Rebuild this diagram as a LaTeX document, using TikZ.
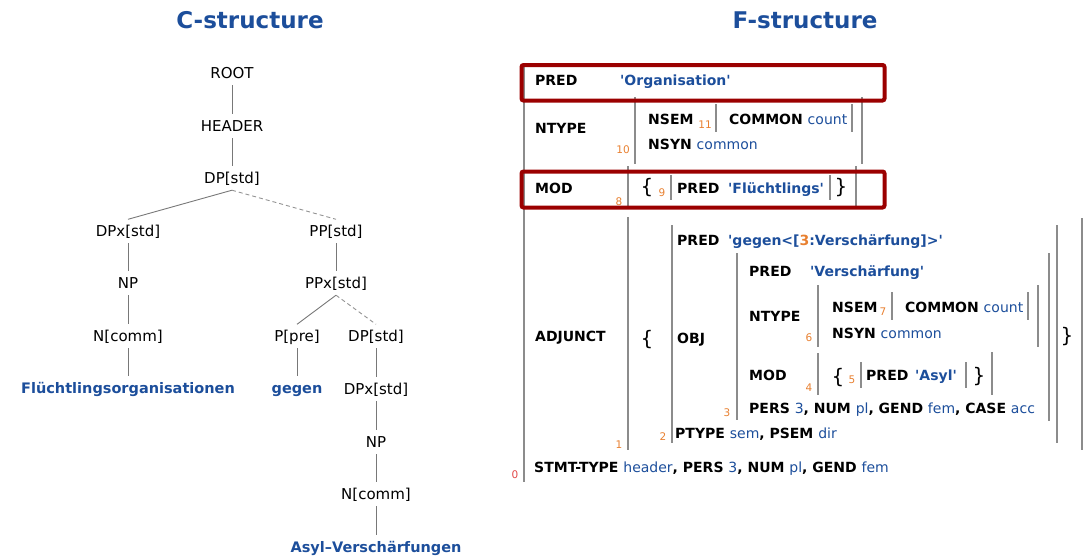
\documentclass[tikz,border=0pt]{standalone}
\usepackage{fontspec}
\setmainfont{DejaVu Sans}
\definecolor{fblue}{RGB}{28,78,155}
\definecolor{forange}{RGB}{232,128,48}
\definecolor{fred}{RGB}{225,70,70}
\definecolor{boxred}{RGB}{155,0,0}
\definecolor{bgray}{RGB}{140,140,140}
\definecolor{tgray}{RGB}{120,120,120}
\newcommand\sq{\textquotesingle}
\newcommand\fval[1]{{\mdseries\color{fblue}#1}}
\newcommand\fquo[1]{{\color{fblue}#1}}
\begin{document}
\begin{tikzpicture}[x=1pt,y=-1pt,
  title/.style={font=\fontsize{23}{26}\selectfont\bfseries, text=fblue, inner sep=0pt, anchor=base},
  tn/.style={font=\fontsize{15}{17}\selectfont, text height=13pt, text depth=3.5pt, inner xsep=2pt, inner ysep=3.5pt, anchor=base},
  tw/.style={tn, font=\fontsize{14.5}{17}\selectfont\bfseries, text=fblue},
  tl/.style={draw=tgray, line width=0.9pt},
  tdash/.style={draw=tgray!80, line width=0.9pt, dash pattern=on 4pt off 3pt},
  fk/.style={font=\fontsize{14}{16}\selectfont\bfseries, inner sep=0pt, anchor=base west},
  fnum/.style={font=\fontsize{10.5}{12}\selectfont, text=forange, inner sep=0pt},
  fbar/.style={draw=bgray, line width=2.6pt},
  fbrace/.style={font=\fontsize{20}{22}\selectfont, inner sep=0pt},
  redbox/.style={draw=boxred, line width=4pt, rounded corners=2pt}
]
\useasboundingbox (0,0) rectangle (1084,555);

% ---------- titles
\node[title] (ctitle) at (250,28) {C-structure};
\node[title] (ftitle) at (805,28) {F-structure};

% ---------- C-structure
\node[tn] (root) at (232,78) {ROOT};
\node[tn] (header) at (232,131) {HEADER};
\node[tn] (dp) at (232,183) {DP[std]};
\node[tn] (dpx) at (128,236) {DPx[std]};
\node[tn] (pp) at (336,236) {PP[std]};
\node[tn] (np) at (128,288) {NP};
\node[tn] (ppx) at (336,288) {PPx[std]};
\node[tn] (nc) at (128,341) {N[comm]};
\node[tn] (ppre) at (297,341) {P[pre]};
\node[tn] (dp2) at (376,341) {DP[std]};
\node[tw] (w1) at (128,393) {Flüchtlingsorganisationen};
\node[tw] (w2) at (297,393) {gegen};
\node[tn] (dpx2) at (376,394) {DPx[std]};
\node[tn] (np2) at (376,447) {NP};
\node[tn] (nc2) at (376,499) {N[comm]};
\node[tw] (w3) at (376,552) {Asyl–Verschärfungen};

\draw[tl] (root.south) -- (header.north);
\draw[tl] (header.south) -- (dp.north);
\draw[tl] (dp.south) -- (dpx.north);
\draw[tdash] (dp.south) -- (pp.north);
\draw[tl] (dpx.south) -- (np.north);
\draw[tl] (np.south) -- (nc.north);
\draw[tl] (nc.south) -- (w1.north);
\draw[tl] (pp.south) -- (ppx.north);
\draw[tl] (ppx.south) -- (ppre.north);
\draw[tdash] (ppx.south) -- (dp2.north);
\draw[tl] (ppre.south) -- (w2.north);
\draw[tl] (dp2.south) -- (dpx2.north);
\draw[tl] (dpx2.south) -- (np2.north);
\draw[tl] (np2.south) -- (nc2.north);
\draw[tl] (nc2.south) -- (w3.north);

% ---------- F-structure bars
\foreach \x/\ya/\yb in {
  524/64/482,
  635/97/164, 716/104/132, 852/104/132, 862/97/164,
  628/166/207, 671/175/200, 830/175/200, 856/166/207,
  628/217/450, 672/225/443, 737/253/420,
  818/285/347, 892/292/320, 1028/292/320, 1038/285/347,
  818/353/395, 861/362/388, 966/362/388, 992/352/395,
  1049/253/421, 1057/225/443, 1082/218/450}
  \draw[fbar] (\x,\ya) -- (\x,\yb);

% ---------- F-structure text
\node[fk] (k1) at (535,85) {PRED};
\node[fk] (v1) at (620,85) {\fquo{\sq Organisation\sq}};
\node[fk] (k2) at (535,133) {NTYPE};
\node[fk] (k3) at (648,124) {NSEM};
\node[fk] (k4) at (729,124) {COMMON \fval{count}};
\node[fk] (k5) at (648,149) {NSYN \fval{common}};
\node[fk] (k6) at (535,193) {MOD};
\node[fk] (k7) at (677,193) {PRED};
\node[fk] (v7) at (728,193) {\fquo{\sq Flüchtlings\sq}};
\node[fk] (k8) at (535,341) {ADJUNCT};
\node[fk] (k9) at (677,245) {PRED};
\node[fk] (v9) at (728,245) {\fquo{\sq gegen<[\textcolor{forange}{3}:Verschärfung]>\sq}};
\node[fk] (k10) at (677,343) {OBJ};
\node[fk] (k11) at (749,276) {PRED};
\node[fk] (v11) at (810,276) {\fquo{\sq Verschärfung\sq}};
\node[fk] (k12) at (749,321) {NTYPE};
\node[fk] (k13) at (832,312) {NSEM};
\node[fk] (k14) at (905,312) {COMMON \fval{count}};
\node[fk] (k15) at (832,338) {NSYN \fval{common}};
\node[fk] (k16) at (749,380) {MOD};
\node[fk] (k17) at (866,380) {PRED};
\node[fk] (v17) at (915,380) {\fquo{\sq Asyl\sq}};
\node[fk] (k18) at (749,413) {PERS \fval{3}, NUM \fval{pl}, GEND \fval{fem}, CASE \fval{acc}};
\node[fk] (k19) at (675,438) {PTYPE \fval{sem}, PSEM \fval{dir}};
\node[fk] (k20) at (534,472) {STMT-TYPE \fval{header}, PERS \fval{3}, NUM \fval{pl}, GEND \fval{fem}};

% braces
\node[fbrace] (b1) at (647,188) {\{};
\node[fbrace] (b2) at (841,188) {\}};
\node[fbrace] (b3) at (647,340) {\{};
\node[fbrace] (b4) at (1067,337) {\}};
\node[fbrace] (b5) at (838,378) {\{};
\node[fbrace] (b6) at (979,377) {\}};

% indices
\node[fnum] (n11) at (705,125) {11};
\node[fnum] (n10) at (623,150) {10};
\node[fnum] (n9) at (662,193) {9};
\node[fnum] (n8) at (619,202) {8};
\node[fnum] (n7) at (883,312) {7};
\node[fnum] (n6) at (809,338) {6};
\node[fnum] (n5) at (852,380) {5};
\node[fnum] (n4) at (809,388) {4};
\node[fnum] (n3) at (727,413) {3};
\node[fnum] (n2) at (663,437) {2};
\node[fnum] (n1) at (619,445) {1};
\node[fnum, text=fred] (n0) at (515,475) {0};

% red boxes
\draw[redbox] (521.5,65) rectangle (884.5,100.5);
\draw[redbox] (521.5,171.5) rectangle (884.5,207.5);
\end{tikzpicture}
\end{document}
